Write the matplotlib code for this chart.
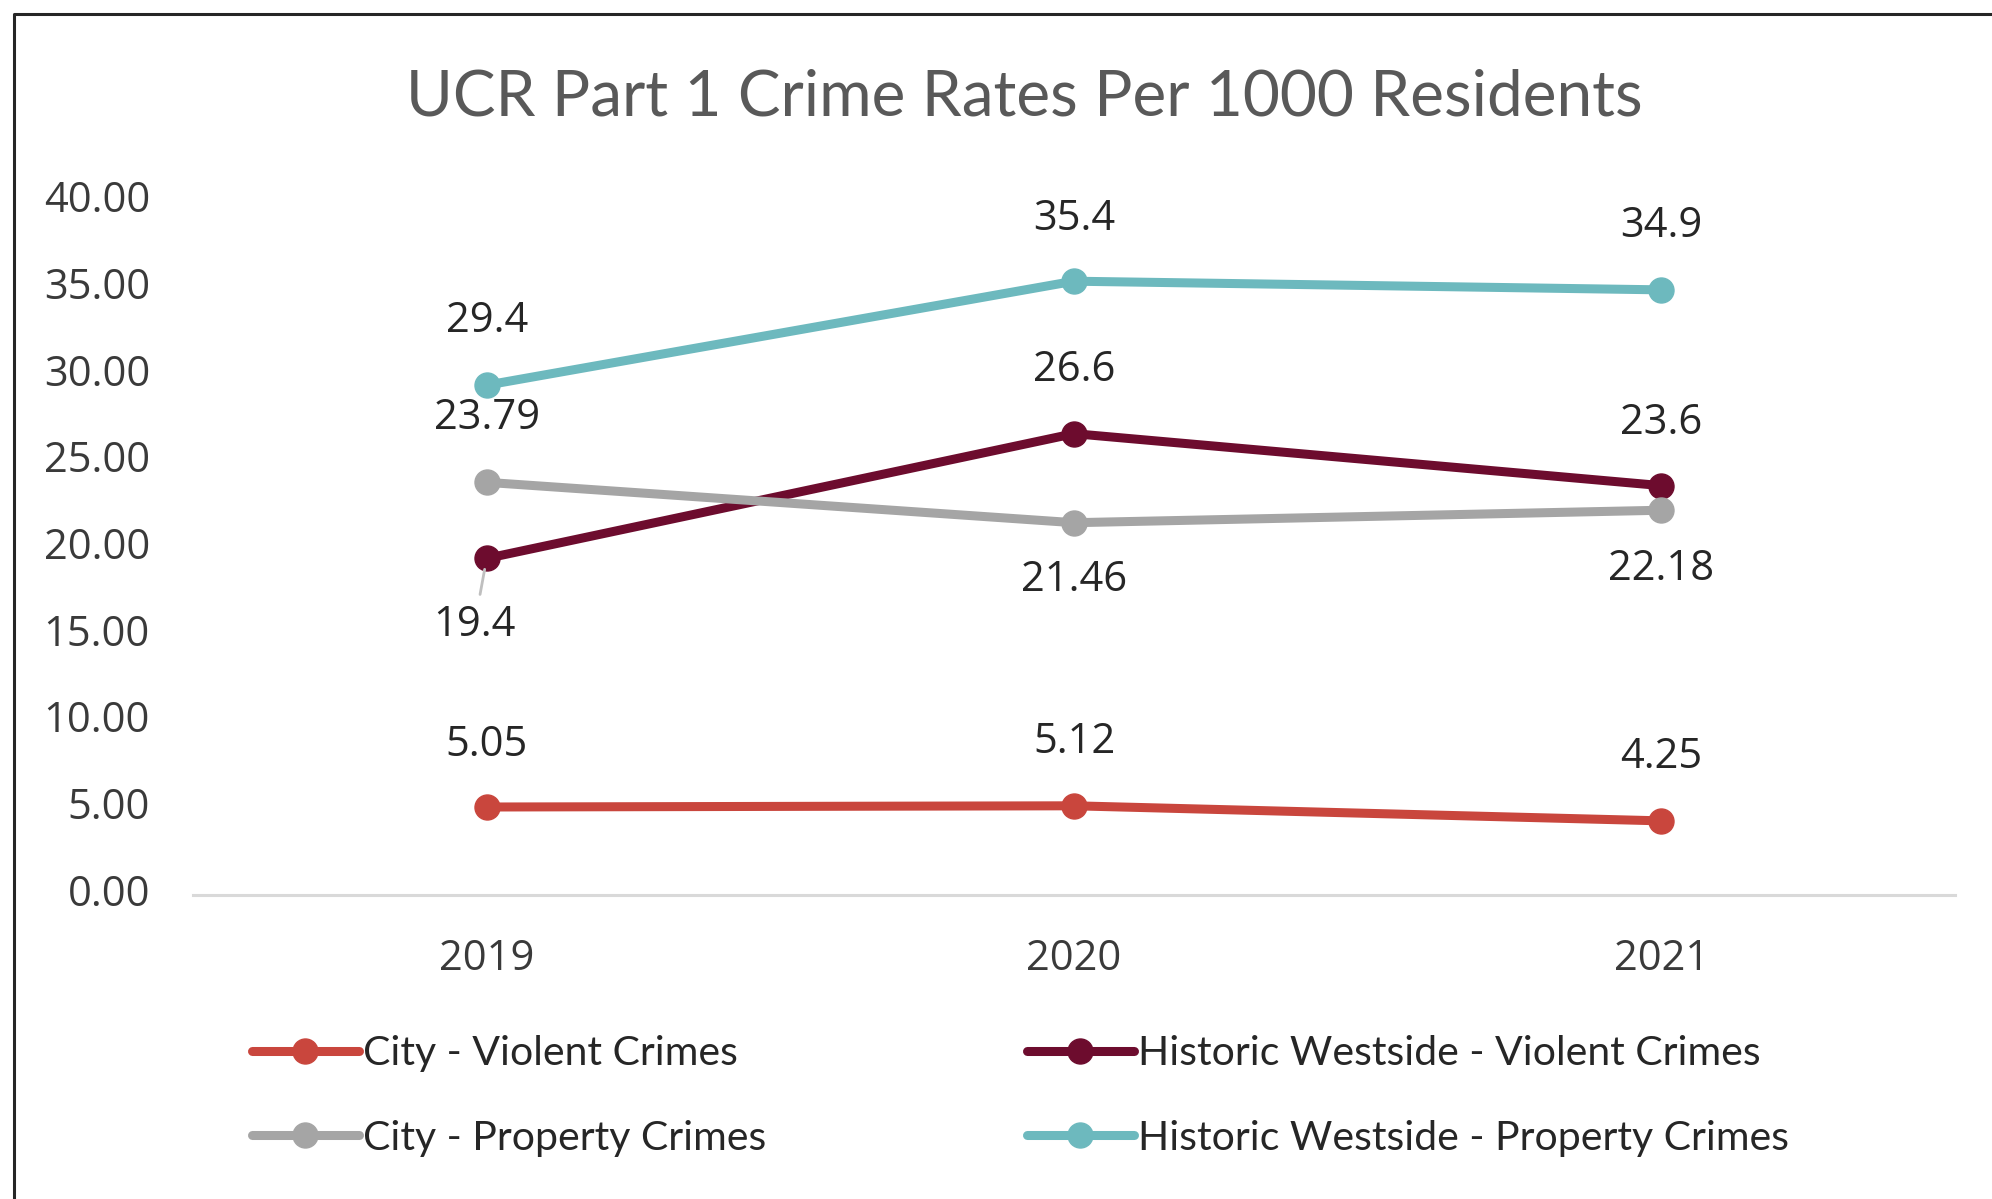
import matplotlib
matplotlib.use("Agg")
import matplotlib.pyplot as plt
from matplotlib.lines import Line2D
import matplotlib.transforms as mtransforms

years = ["2019", "2020", "2021"]
city_violent = [5.05, 5.12, 4.25]
hw_violent = [19.4, 26.6, 23.6]
city_property = [23.79, 21.46, 22.18]
hw_property = [29.4, 35.4, 34.9]

city_violent_labels = ["5.05", "5.12", "4.25"]
hw_violent_labels = ["19.4", "26.6", "23.6"]
city_property_labels = ["23.79", "21.46", "22.18"]
hw_property_labels = ["29.4", "35.4", "34.9"]

series_names = ["City - Violent Crimes", "Historic Westside - Violent Crimes",
                "City - Property Crimes", "Historic Westside - Property Crimes"]
colors = ["#C9463D", "#6D0C2E", "#A5A5A5", "#6DB9BE"]

yticks = [0, 5, 10, 15, 20, 25, 30, 35, 40]
title = "UCR Part 1 Crime Rates Per 1000 Residents"

W, H = 1992, 1199
fig = plt.figure(figsize=(W / 100, H / 100), dpi=100)
fig.patch.set_facecolor("white")

ax_left, ax_right = 193, 1955
ax_top, ax_bottom = 201.5, 894.5
ax = fig.add_axes([ax_left / W, 1 - ax_bottom / H, (ax_right - ax_left) / W, (ax_bottom - ax_top) / H])
ax.set_facecolor("none")

num_font = "Open Sans"
txt_font = "Lato"

x = list(range(len(years)))
data = [city_violent, hw_violent, city_property, hw_property]
labels = [city_violent_labels, hw_violent_labels, city_property_labels, hw_property_labels]
handles = []
for i, (vals, c, name) in enumerate(zip(data, colors, series_names)):
    ln, = ax.plot(x, vals, color=c, lw=6.5, marker="o", markersize=18,
                  solid_capstyle="round", label=name, zorder=3 + i)
    handles.append(ln)

# data labels: offsets in points (positive = above)
offsets = {
    0: [(0, 45), (0, 46), (0, 46)],
    1: [(-9, -48), (0, 46), (0, 45)],
    2: [(0, 46), (0, -41), (0, -42)],
    3: [(0, 46), (0, 45), (0, 46)],
}
for si, (vals, labs) in enumerate(zip(data, labels)):
    for xi, (v, lab) in enumerate(zip(vals, labs)):
        dx, dy = offsets[si][xi]
        kw = {}
        if si == 1 and xi == 0:
            kw["arrowprops"] = dict(arrowstyle="-", color="#BFBFBF", lw=2,
                                    shrinkA=5, shrinkB=8, relpos=(0.55, 1.0))
        ax.annotate(lab, xy=(xi, v), xytext=(dx, dy), textcoords="offset points",
                    ha="center", va="center", fontsize=30, family=num_font,
                    color="#262626", zorder=10, **kw)

ax.set_xlim(-0.5, 2.5)
ax.set_ylim(0, 40)
ax.set_xticks(x)
ax.set_xticklabels(years)
ax.set_yticks(yticks)
ax.set_yticklabels([f"{t:.2f}" for t in yticks])
for lab in ax.get_xticklabels() + ax.get_yticklabels():
    lab.set_family(num_font)
    lab.set_fontsize(30)
    lab.set_color("#3A3A3A")
ax.tick_params(axis="both", length=0)
ax.tick_params(axis="y", pad=31)
ax.tick_params(axis="x", pad=31)
shift_up = mtransforms.ScaledTranslation(0, 5 / 100, fig.dpi_scale_trans)
for lab in ax.get_yticklabels():
    lab.set_transform(lab.get_transform() + shift_up)
for s in ["top", "right", "left"]:
    ax.spines[s].set_visible(False)
ax.spines["bottom"].set_color("#D9D9D9")
ax.spines["bottom"].set_linewidth(2.2)

fig.text(1024 / W, 1 - 98 / H, title, ha="center", va="center",
         fontsize=46, family=txt_font, color="#595959")

leg_kw = dict(loc="center left", frameon=False, ncol=1,
              handlelength=2.6, handletextpad=0.12, labelspacing=1.15,
              borderpad=0, borderaxespad=0, prop={"family": txt_font, "size": 29.5})
leg1 = fig.legend([handles[0], handles[2]], [series_names[0], series_names[2]],
                  bbox_to_anchor=(252 / W, 1 - 1096 / H), **leg_kw)
leg2 = fig.legend([handles[1], handles[3]], [series_names[1], series_names[3]],
                  bbox_to_anchor=(1027 / W, 1 - 1096 / H), **leg_kw)
for leg in (leg1, leg2):
    for t in leg.get_texts():
        t.set_color("#262626")

# outer chart border (top and left visible)
fig.add_artist(Line2D([13.5 / W, 13.5 / W, 1.0], [0.0, 1 - 13.5 / H, 1 - 13.5 / H],
                      transform=fig.transFigure, color="#262626", lw=2.2))

fig.savefig("out.png", dpi=100)
